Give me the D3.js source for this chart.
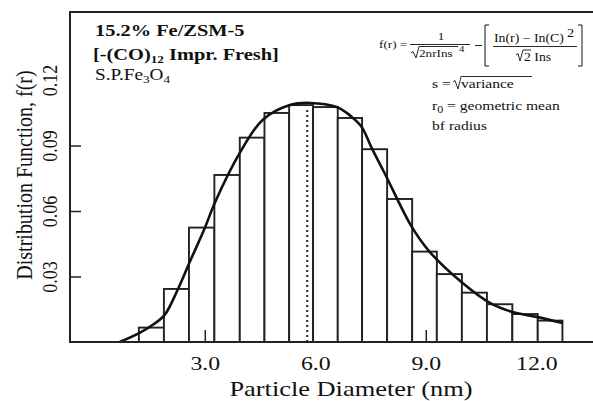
<!DOCTYPE html>
<html>
<head>
<meta charset="utf-8">
<script src="https://cdn.jsdelivr.net/npm/d3@7"></script>
<style>
  body { margin: 0; background: #fff; }
  svg { display: block; }
  text { font-family: "Liberation Serif", "Times New Roman", serif; fill: #111; }
</style>
</head>
<body>
<div id="chart"></div>
<script>
// histogram: bin edges (nm) and distribution values
const binEdges = [1.21, 1.89, 2.57, 3.26, 3.95, 4.62, 5.29, 5.94, 6.61, 7.27,
  7.95, 8.63, 9.30, 9.98, 10.66, 11.35, 12.04, 12.71];
const binValues = [0.0066, 0.0243, 0.0524, 0.0765, 0.0936, 0.1049, 0.1085, 0.1076,
  0.1026, 0.0883, 0.0655, 0.0414, 0.0311, 0.0226, 0.0173, 0.0128, 0.0098];

// fitted log-normal curve
const curveX = [0.69, 1.23, 1.60, 1.91, 2.26, 2.59, 3.00, 3.27, 3.95, 4.57, 5.31,
  5.85, 6.58, 6.99, 7.26, 7.53, 7.88, 8.62, 9.11, 10.0, 10.74, 11.36, 12.01, 12.72];
const curveY = [0.0, 0.0042, 0.0080, 0.0124, 0.0238, 0.0366, 0.0522, 0.0637, 0.0866,
  0.1017, 0.1085, 0.1095, 0.1076, 0.1031, 0.0985, 0.0889, 0.0774, 0.0527, 0.0412,
  0.0270, 0.0179, 0.0137, 0.0115, 0.0087];

// mean diameter marker
const meanX = 5.78;
const meanTop = 0.107;

const xTicks = [3, 6, 9, 12];
const yTicks = [0.03, 0.06, 0.09, 0.12];

const width = 593, height = 401;
const plot = { left: 70, right: 593, top: 12, bottom: 342 };
const SX = 1.2; // the original picture is stretched horizontally

const svg = d3.select("#chart").append("svg")
  .attr("width", width).attr("height", height);

const x = d3.scaleLinear().domain([-0.66, 13.54]).range([plot.left, plot.right]);
const y = d3.scaleLinear().domain([0, 0.12]).range([plot.bottom, 80]);

// helper for stretched text
function label(g, px, py, str, size, opts) {
  opts = opts || {};
  const t = g.append("text")
    .attr("transform", `translate(${px},${py}) scale(${SX},1)` + (opts.rotate ? ` rotate(${opts.rotate})` : ""))
    .attr("font-size", size)
    .attr("text-anchor", opts.anchor || "start")
    .attr("font-weight", opts.bold ? "bold" : "normal");
  return t.text(str);
}

// bars
const bins = binValues.map((v, i) => ({ x0: binEdges[i], x1: binEdges[i + 1], v: v }));
svg.append("g").selectAll("rect").data(bins).enter().append("rect")
  .attr("x", d => x(d.x0))
  .attr("y", d => y(d.v))
  .attr("width", d => x(d.x1) - x(d.x0))
  .attr("height", d => y(0) - y(d.v))
  .attr("fill", "#fff")
  .attr("stroke", "#222")
  .attr("stroke-width", 1.9);

// mean line (dotted)
svg.append("line")
  .attr("x1", x(meanX)).attr("x2", x(meanX))
  .attr("y1", y(0)).attr("y2", y(meanTop))
  .attr("stroke", "#333").attr("stroke-width", 2.2)
  .attr("stroke-dasharray", "2,3");

// fitted curve
const pts = curveX.map((d, i) => [d, curveY[i]]);
svg.append("path")
  .datum(pts)
  .attr("fill", "none")
  .attr("stroke", "#111")
  .attr("stroke-width", 2.6)
  .attr("d", d3.line().x(d => x(d[0])).y(d => y(d[1])).curve(d3.curveCatmullRom.alpha(0.5)));

// axes
const xAxis = svg.append("g")
  .attr("transform", `translate(0,${plot.bottom})`)
  .call(d3.axisBottom(x).tickValues(xTicks).tickSize(-12).tickFormat(d3.format(".1f")));
xAxis.select(".domain").remove();
xAxis.selectAll(".tick line")
  .attr("stroke", "#222").attr("stroke-width", 1.5)
  .attr("display", d => (d === 3 || d === 9) ? null : "none");
xAxis.selectAll(".tick text")
  .attr("y", null).attr("dy", null)
  .attr("transform", `translate(0,28) scale(${SX + 0.05},1)`)
  .attr("font-size", 19).attr("fill", "#111");

const yAxis = svg.append("g")
  .attr("transform", `translate(${plot.left},0)`)
  .call(d3.axisLeft(y).tickValues(yTicks).tickSize(-11).tickFormat(d3.format(".2f")));
yAxis.select(".domain").remove();
yAxis.selectAll(".tick line")
  .attr("stroke", "#222").attr("stroke-width", 1.5)
  .attr("display", d => d === 0.12 ? "none" : null);
yAxis.selectAll(".tick text")
  .attr("x", null).attr("dy", null)
  .attr("text-anchor", "middle")
  .attr("transform", `translate(-13,0) scale(${SX},1) rotate(-90)`)
  .attr("font-size", 18).attr("fill", "#111");

// frame: left, top, bottom
svg.append("path")
  .attr("d", `M${plot.right},${plot.top}H${plot.left}V${plot.bottom}H${plot.right}`)
  .attr("fill", "none").attr("stroke", "#222").attr("stroke-width", 2);

// axis titles
label(svg, 351, 396, "Particle Diameter (nm)", 22, { anchor: "middle" });
label(svg, 32, 175, "Distribution Function, f(r)", 20, { anchor: "middle", rotate: -90 });

// sample description
label(svg, 95, 36, "15.2% Fe/ZSM-5", 17, { bold: true });
const l2 = label(svg, 93, 60, "[-(CO)", 17, { bold: true });
l2.append("tspan").attr("font-size", 11).attr("dy", 3).text("12");
l2.append("tspan").attr("dy", -3).text(" Impr. Fresh]");
const l3 = label(svg, 95, 80, "S.P.Fe", 16);
l3.append("tspan").attr("font-size", 11).attr("dy", 3).text("3");
l3.append("tspan").attr("dy", -3).text("O");
l3.append("tspan").attr("font-size", 11).attr("dy", 3).text("4");

// formula
const f = svg.append("g").attr("stroke", "#111").attr("fill", "none");
label(svg, 379, 48, "f(r) =", 11);
label(svg, 441, 40, "1", 11, { anchor: "middle" });
f.append("line").attr("x1", 410).attr("x2", 470).attr("y1", 44.5).attr("y2", 44.5).attr("stroke-width", 0.9);
f.append("path").attr("d", "M411,53 L413,51.5 L416,58 L419,46.5 H458").attr("stroke-width", 0.9);
label(svg, 419, 57, "2nrIns", 11);
label(svg, 459, 52, "4", 9);
f.append("line").attr("x1", 475).attr("x2", 482).attr("y1", 45.5).attr("y2", 45.5).attr("stroke-width", 0.9);
f.append("path").attr("d", "M489,25 H485 V66 H489").attr("stroke-width", 1);
label(svg, 494, 42, "In(r) \u2212 In(C)", 11.5);
label(svg, 567, 37, "2", 12);
f.append("line").attr("x1", 493).attr("x2", 577).attr("y1", 46.5).attr("y2", 46.5).attr("stroke-width", 0.9);
f.append("path").attr("d", "M516,55 L518,53.5 L520,61 L523,50 H531").attr("stroke-width", 0.9);
label(svg, 524, 61, "2 Ins", 11.5);
f.append("path").attr("d", "M578,25 H582 V66 H578").attr("stroke-width", 1);

label(svg, 432, 88, "s = ", 13);
f.append("path").attr("d", "M453,82 L455,80.5 L458,89 L461,76.5 H532").attr("stroke-width", 0.9);
label(svg, 461, 88, "variance", 13);
const r0 = label(svg, 432, 110, "r", 13);
r0.append("tspan").attr("font-size", 10).attr("dy", 3).text("0");
r0.append("tspan").attr("dy", -3).text(" = geometric mean");
label(svg, 432, 130, "bf radius", 13);
</script>
</body>
</html>
